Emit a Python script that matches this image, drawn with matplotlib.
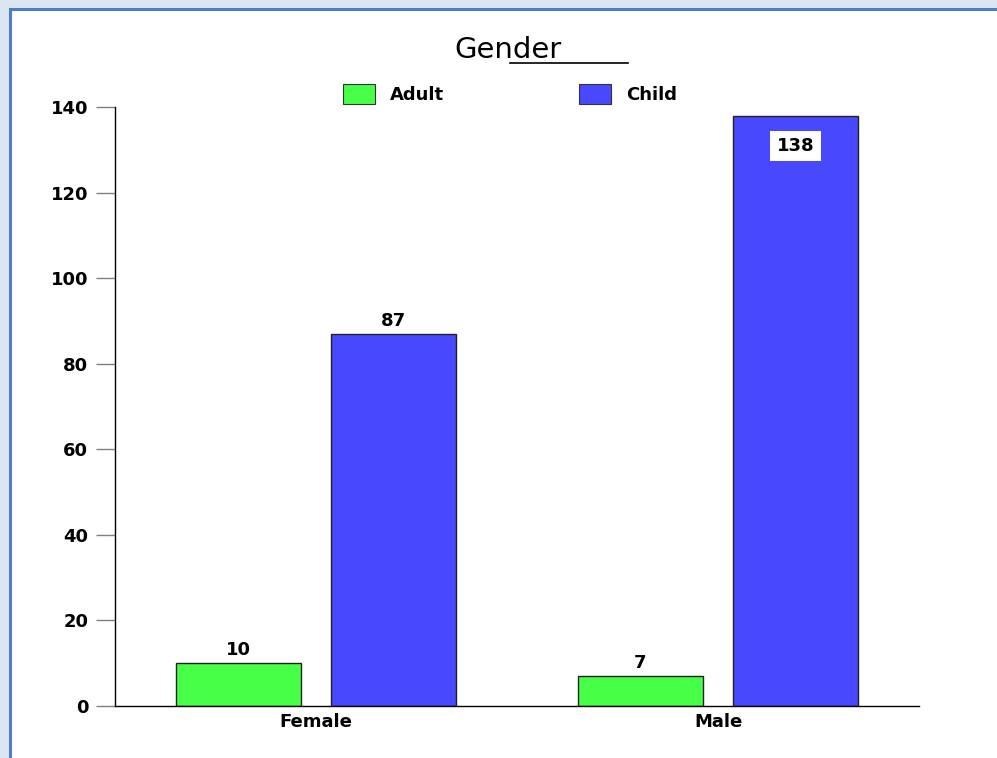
import matplotlib
matplotlib.use("Agg")
import matplotlib.pyplot as plt
from matplotlib.patches import Rectangle, Patch
from matplotlib.lines import Line2D
import numpy as np

categories = ["Female", "Male"]
series_names = ["Adult", "Child"]
adult = [10, 7]
child = [87, 138]
yticks = [0, 20, 40, 60, 80, 100, 120, 140]
title = "Gender"

W, H = 997, 758
DPI = 100
plt.rcParams['font.family'] = ['DejaVu Sans']

fig = plt.figure(figsize=(W / DPI, H / DPI), dpi=DPI, facecolor='#dce6f2')

def fx(px):
    return px / W

def fy(py):
    return 1 - py / H

# white panel with blue frame
panel = Rectangle((fx(9.5), -0.05), 1.2, fy(8.5) + 0.05, transform=fig.transFigure,
                  facecolor='white', edgecolor='#4f7cc9', linewidth=2.2, zorder=0)
fig.add_artist(panel)

ax = fig.add_axes([fx(115), fy(706), fx(919) - fx(115), fy(107) - fy(706)])
ax.set_facecolor('none')

x = np.arange(len(categories))
w = 0.31
off = 0.193
green = '#48ff48'
blue = '#4848ff'
b1 = ax.bar(x - off, adult, width=w, color=green, edgecolor='#222222', linewidth=1.0, zorder=2)
b2 = ax.bar(x + off, child, width=w, color=blue, edgecolor='#222222', linewidth=1.0, zorder=2)

ax.set_xlim(-0.5, 1.5)
ax.set_ylim(0, 140)
ax.set_yticks(yticks)
ax.set_yticklabels([str(v) for v in yticks], fontsize=13, fontweight='bold')
ax.set_xticks(x)
ax.set_xticklabels(categories, fontsize=13, fontweight='bold')
ax.tick_params(axis='x', length=0, pad=5)
ax.tick_params(axis='y', length=13.7, width=1.0, color='#808080', pad=5.5)
ax.yaxis.get_major_ticks()[-1].tick1line.set_color('black')

for s in ['top', 'right']:
    ax.spines[s].set_visible(False)
for s in ['left', 'bottom']:
    ax.spines[s].set_color('black')
    ax.spines[s].set_linewidth(1.0)

# value labels
for rect, v in zip(list(b1) + list(b2), adult + child):
    cx = rect.get_x() + rect.get_width() / 2
    if v >= 130:
        ax.annotate(str(v), (cx, v), xytext=(0, -22), textcoords='offset points',
                    ha='center', va='center', fontsize=13, fontweight='bold',
                    bbox=dict(boxstyle='square,pad=0.35', facecolor='white', edgecolor='none'))
    else:
        ax.annotate(str(v), (cx, v), xytext=(0, 3), textcoords='offset points',
                    ha='center', va='bottom', fontsize=13, fontweight='bold')

# title with odd underline
fig.text(fx(508), fy(50), title, ha='center', va='center', fontsize=21)
fig.add_artist(Line2D([fx(510), fx(628)], [fy(62.5), fy(62.5)], transform=fig.transFigure,
                      color='black', linewidth=1.2))

handles = [Patch(facecolor=green, edgecolor='#333333', linewidth=0.8),
           Patch(facecolor=blue, edgecolor='#333333', linewidth=0.8)]
leg = fig.legend(handles, series_names, loc='center left', bbox_to_anchor=(fx(343), fy(94)),
                 ncol=2, frameon=False, prop={'weight': 'bold', 'size': 13},
                 handlelength=1.75, handleheight=1.4, handletextpad=0.85,
                 columnspacing=7.5, borderpad=0, borderaxespad=0)

fig.savefig('out.png', dpi=DPI, facecolor=fig.get_facecolor())
